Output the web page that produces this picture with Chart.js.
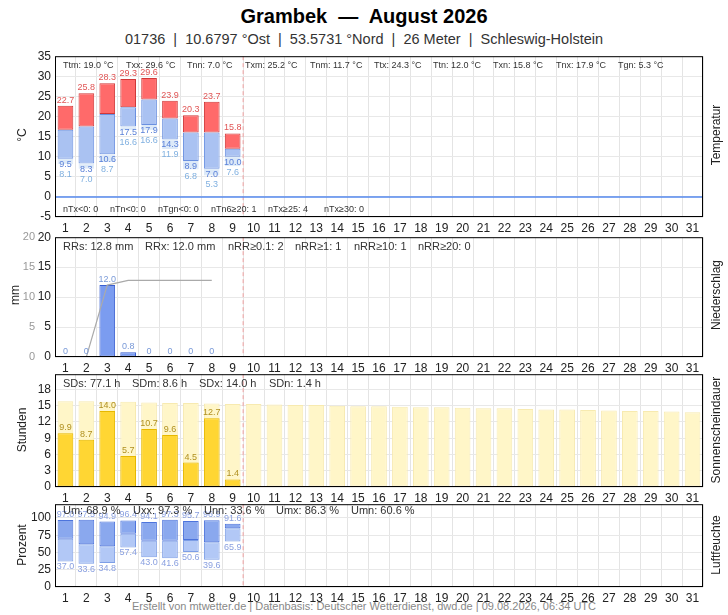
<!DOCTYPE html>
<html><head><meta charset="utf-8">
<script src="https://cdn.jsdelivr.net/npm/chart.js@4"></script>
<style>
body{margin:0;width:728px;height:615px;position:relative;font-family:"Liberation Sans",Arial,sans-serif;background:#fff;overflow:hidden}
.p{position:absolute;left:0;width:728px}
.t{position:absolute;white-space:nowrap}
.rot{position:absolute;transform:translate(-50%,-50%) rotate(-90deg);white-space:nowrap;font-size:12px;color:#222}
</style></head><body>
<div class="t" style="top:5px;width:728px;text-align:center;font-size:20px;font-weight:bold">Grambek &nbsp;—&nbsp; August 2026</div>
<div class="t" style="top:31px;width:728px;text-align:center;font-size:14.5px;color:#333">01736 &nbsp;|&nbsp; 10.6797 °Ost &nbsp;|&nbsp; 53.5731 °Nord &nbsp;|&nbsp; 26 Meter &nbsp;|&nbsp; Schleswig-Holstein</div>
<div class="t" style="top:600px;width:728px;text-align:center;font-size:11px;color:#888">Erstellt von mtwetter.de | Datenbasis: Deutscher Wetterdienst, dwd.de | 09.08.2026, 06:34 UTC</div>
<div class="p" style="top:45px;height:192px"><canvas id="c1"></canvas></div>
<div class="p" style="top:226px;height:151px"><canvas id="c2"></canvas></div>
<div class="p" style="top:363px;height:144px"><canvas id="c3"></canvas></div>
<div class="p" style="top:493px;height:114px"><canvas id="c4"></canvas></div>
<div class="rot" style="left:22px;top:135px">°C</div>
<div class="rot" style="left:15px;top:295px">mm</div>
<div class="rot" style="left:22px;top:430px">Stunden</div>
<div class="rot" style="left:22px;top:545px">Prozent</div>
<div class="rot" style="left:716px;top:135px">Temperatur</div>
<div class="rot" style="left:716px;top:295px">Niederschlag</div>
<div class="rot" style="left:716px;top:430px">Sonnenscheindauer</div>
<div class="rot" style="left:716px;top:545px">Luftfeuchte</div>
<script>
var days = Array.from({length: 31}, (_, i) => String(i + 1));

var tMax = [22.7, 25.8, 28.3, 29.3, 29.6, 23.9, 20.3, 23.7, 15.8];
var tMean = [16.7, 17.5, 20.6, 22.3, 24.2, 19.5, 16.0, 16.0, 12.0];
var tMin = [9.5, 8.3, 10.6, 17.5, 17.9, 14.3, 8.9, 7.0, 10.0];
var tGround = [8.1, 7.0, 8.7, 16.6, 16.6, 11.9, 6.8, 5.3, 7.6];

var rain = [0, 0, 12.0, 0.8, 0, 0, 0, 0];
var rainSum = [0, 0, 12.0, 12.8, 12.8, 12.8, 12.8, 12.8];
var rainTicks = [0, 5, 10, 15, 20];

var sun = [9.9, 8.7, 14.0, 5.7, 10.7, 9.6, 4.5, 12.7, 1.4];
var sunPossible = [15.8, 15.8, 15.7, 15.7, 15.6, 15.5, 15.5, 15.4, 15.3, 15.3, 15.2, 15.1, 15.1, 15.0, 14.9, 14.9,
    14.8, 14.7, 14.7, 14.6, 14.5, 14.5, 14.4, 14.3, 14.3, 14.2, 14.1, 14.0, 14.0, 13.9, 13.8];
var sunTicks = [0, 3, 6, 9, 12, 15, 18];

var hMax = [97.0, 97.5, 94.9, 96.4, 94.1, 97.3, 95.7, 96.9, 91.6];
var hMean = [70, 62, 59, 77, 67, 67, 68, 65, 85];
var hMin = [37.0, 33.6, 34.8, 57.4, 43.0, 41.6, 50.6, 39.6, 65.9];
var humTicks = [0, 25, 50, 75, 100];

var tempStats = ['Ttm: 19.0 °C', 'Txx: 29.6 °C', 'Tnn: 7.0 °C', 'Txm: 25.2 °C', 'Tnm: 11.7 °C', 'Ttx: 24.3 °C', 'Ttn: 12.0 °C', 'Txn: 15.8 °C', 'Tnx: 17.9 °C', 'Tgn: 5.3 °C'];
var tempStatsX = [63, 126, 187, 245, 310, 374, 433, 493, 556, 618];
var tempCounts = ['nTx<0: 0', 'nTn<0: 0', 'nTgn<0: 0', 'nTn6≥20: 1', 'nTx≥25: 4', 'nTx≥30: 0'];
var tempCountsX = [63, 110, 158, 211, 268, 324];
var rainStats = ['RRs: 12.8 mm', 'RRx: 12.0 mm', 'nRR≥0.1: 2', 'nRR≥1: 1', 'nRR≥10: 1', 'nRR≥20: 0'];
var rainStatsX = [63, 145, 228, 295, 354, 418];
var sunStats = ['SDs: 77.1 h', 'SDm: 8.6 h', 'SDx: 14.0 h', 'SDn: 1.4 h'];
var sunStatsX = [63, 132, 199, 269];
var humStats = ['Um: 68.9 %', 'Uxx: 97.3 %', 'Unn: 33.6 %', 'Umx: 86.3 %', 'Umn: 60.6 %'];
var humStatsX = [63, 133, 204, 276, 351];

function range(lo, hi) { return lo.map((v, i) => [v, hi[i]]); }
function fmt(v) { return v === 0 ? '0' : v.toFixed(1); }
function fixedTicks(list) { return function (s) { s.ticks = list.map(v => ({ value: v })); }; }

// frame, today-line, stats texts and value labels
function panelPlugin(opts) {
    return {
        id: 'panel',
        afterDatasetsDraw: function (chart) {
            var ctx = chart.ctx, a = chart.chartArea, x = chart.scales.x, y = chart.scales.y;
            ctx.save();
            var xd = (x.getPixelForValue(8) + x.getPixelForValue(9)) / 2;
            ctx.strokeStyle = '#f0a0a0'; ctx.setLineDash([4, 3]); ctx.lineWidth = 1;
            ctx.beginPath(); ctx.moveTo(xd, a.top); ctx.lineTo(xd, a.bottom); ctx.stroke();
            ctx.setLineDash([]);
            (opts.labels || []).forEach(function (l) {
                ctx.font = l.size + 'px "Liberation Sans", Arial';
                ctx.fillStyle = l.color; ctx.textAlign = 'center';
                ctx.textBaseline = l.below ? 'top' : 'bottom';
                l.values.forEach(function (v, i) {
                    var py = y.getPixelForValue(l.at[i]) + (l.below ? l.dy || 1 : -1);
                    ctx.fillText(fmt(v), x.getPixelForValue(i), py);
                });
            });
            (opts.texts || []).forEach(function (t) {
                ctx.font = t.size + 'px "Liberation Sans", Arial';
                ctx.fillStyle = '#333'; ctx.textAlign = 'left'; ctx.textBaseline = 'middle';
                t.items.forEach(function (s, i) { ctx.fillText(s, a.left + t.xs[i] - 55, a.top + t.dy); });
            });
            if (opts.ghost) {
                ctx.font = '11px "Liberation Sans", Arial';
                ctx.fillStyle = '#999'; ctx.textAlign = 'right'; ctx.textBaseline = 'middle';
                opts.ghost.forEach(function (v) { ctx.fillText(String(v), 35, y.getPixelForValue(v)); });
            }
            if (opts.zero) {
                ctx.strokeStyle = '#5588ee'; ctx.lineWidth = 1.5;
                var z = y.getPixelForValue(0);
                ctx.beginPath(); ctx.moveTo(a.left, z); ctx.lineTo(a.right, z); ctx.stroke();
            }
            ctx.strokeStyle = '#000'; ctx.lineWidth = 1;
            ctx.strokeRect(a.left + 0.5, a.top + 0.5, a.width - 1, a.height - 1);
            ctx.restore();
        }
    };
}

function makeChart(id, datasets, yOpt, plug) {
    var scales = {
        x: {
            offset: true,
            grid: { offset: true, color: '#e4e4e4', drawTicks: false },
            border: { display: false },
            ticks: { color: '#222', font: { size: 12 }, padding: 4, autoSkip: false, maxRotation: 0 },
            afterFit: function (s) { s.height = 20; }
        },
        y: Object.assign({
            grid: { color: '#e8e8e8', drawTicks: false },
            border: { display: false },
            ticks: { color: '#222', font: { size: 12 }, padding: 4, autoSkip: false },
            afterFit: function (s) { s.width = 55; }
        }, yOpt)
    };
    return new Chart(document.getElementById(id), {
        type: 'bar',
        data: { labels: days, datasets: datasets },
        options: {
            responsive: true, maintainAspectRatio: false, animation: false,
            layout: { padding: { top: 0, right: 25, left: 0 } },
            plugins: { legend: { display: false }, tooltip: { enabled: false } },
            datasets: { bar: { grouped: false, barPercentage: 0.75, categoryPercentage: 1, borderSkipped: false } },
            scales: scales
        },
        plugins: [plug]
    });
}

makeChart('c1', [
    { data: range(tGround, tMin), backgroundColor: '#dce9f8', borderColor: '#dce9f8', borderWidth: 1 },
    { data: range(tMin, tMean), backgroundColor: '#aac2f2', borderColor: '#6a90e0', borderWidth: 1 },
    { data: range(tMean, tMax), backgroundColor: '#ff6a6a', borderColor: '#d03838', borderWidth: 1 }
], { min: -5, max: 35, ticks: { stepSize: 5, color: '#222', font: { size: 12 }, padding: 4 } }, panelPlugin({
    zero: true,
    labels: [
        { values: tMax, at: tMax, color: '#e05555', size: 9 },
        { values: tMin, at: tMin, color: '#5a80d8', size: 9, below: true },
        { values: tGround, at: tMin, color: '#80b0e0', size: 9, below: true, dy: 11 }
    ],
    texts: [
        { items: tempStats, xs: tempStatsX, dy: 9, size: 9 },
        { items: tempCounts, xs: tempCountsX, dy: 153, size: 9 }
    ]
}));

makeChart('c2', [
    { type: 'line', data: rainSum, borderColor: '#aaaaaa', borderWidth: 1.2, pointRadius: 0, tension: 0 },
    { data: rain, backgroundColor: '#7b9cf0', borderColor: '#3a5fd0', borderWidth: 1 }
], { min: 0, max: 20, afterBuildTicks: fixedTicks(rainTicks) },
panelPlugin({
    ghost: rainTicks,
    labels: [{ values: rain, at: rain, color: '#7a9ad8', size: 9 }],
    texts: [{ items: rainStats, xs: rainStatsX, dy: 10, size: 11 }]
}));

makeChart('c3', [
    { data: sun, backgroundColor: '#ffd633', borderColor: '#e6b800', borderWidth: 1 },
    { data: sunPossible, backgroundColor: '#fff6c8', borderColor: '#f7eab0', borderWidth: 1 }
], { min: 0, max: 20.8, afterBuildTicks: fixedTicks(sunTicks) },
panelPlugin({
    labels: [{ values: sun, at: sun, color: '#b09020', size: 9 }],
    texts: [{ items: sunStats, xs: sunStatsX, dy: 10, size: 11 }]
}));

makeChart('c4', [
    { data: range(hMin, hMean), backgroundColor: '#b2c8f6', borderColor: '#7d9ee6', borderWidth: 1 },
    { data: range(hMean, hMax), backgroundColor: '#8aa8ee', borderColor: '#4d74dc', borderWidth: 1 }
], { min: 0, max: 120, afterBuildTicks: fixedTicks(humTicks) },
panelPlugin({
    labels: [
        { values: hMax, at: hMax, color: '#8aa0e0', size: 9 },
        { values: hMin, at: hMin, color: '#8aa0e0', size: 9, below: true }
    ],
    texts: [{ items: humStats, xs: humStatsX, dy: 7, size: 11 }]
}));
</script>
</body></html>
